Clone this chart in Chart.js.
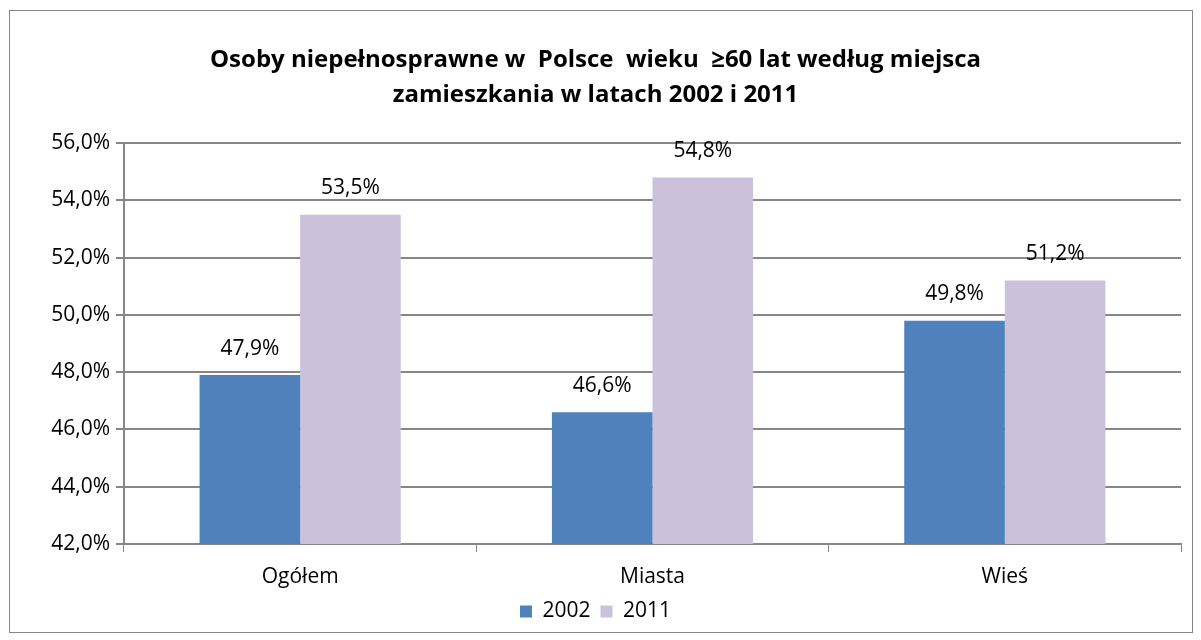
<!DOCTYPE html>
<html>
<head>
<meta charset="utf-8">
<script src="https://cdn.jsdelivr.net/npm/chart.js@4/dist/chart.umd.min.js"></script>
<style>
  body { margin: 0; background: #fff; }
  #box { position: absolute; left: 9px; top: 10px; width: 1182px; height: 621px; border: 1px solid #868686; }
  canvas { display: block; }
</style>
</head>
<body>
<div id="box"><canvas id="chart" width="1182" height="621"></canvas></div>
<script>
var categories = ['Ogółem', 'Miasta', 'Wieś'];
var seriesNames = ['2002', '2011'];
var values2002 = [47.9, 46.6, 49.8];
var values2011 = [53.5, 54.8, 51.2];
var yTicks = [42, 44, 46, 48, 50, 52, 54, 56];

var FONT = "'Open Sans', 'Noto Sans', sans-serif";

function pct(v) {
    return v.toFixed(1).replace('.', ',') + '%';
}

// labels above bars
var barLabels = {
    id: 'barLabels',
    afterDatasetsDraw: function (chart) {
        var ctx = chart.ctx;
        ctx.save();
        ctx.fillStyle = '#000';
        ctx.font = '21px ' + FONT;
        ctx.textAlign = 'center';
        ctx.textBaseline = 'bottom';
        chart.data.datasets.forEach(function (ds, i) {
            chart.getDatasetMeta(i).data.forEach(function (bar, j) {
                ctx.fillText(pct(ds.data[j]), bar.x, bar.y - 16);
            });
        });
        ctx.restore();
    }
};

var chart = new Chart(document.getElementById('chart').getContext('2d'), {
    type: 'bar',
    data: {
        labels: categories,
        datasets: [
            { label: seriesNames[0], data: values2002, backgroundColor: '#4F81BD' },
            { label: seriesNames[1], data: values2011, backgroundColor: '#CCC1DA' }
        ]
    },
    options: {
        responsive: false,
        animation: false,
        categoryPercentage: 0.571,
        barPercentage: 1,
        layout: { padding: { left: 0, right: 11, top: 0, bottom: 0 } },
        plugins: {
            title: {
                display: true,
                text: ['Osoby niepełnosprawne w  Polsce  wieku  \u226560 lat według miejsca', 'zamieszkania w latach 2002 i 2011'],
                color: '#000',
                font: { family: FONT, size: 24, weight: 'bold', lineHeight: 1.46 },
                padding: { top: 32, bottom: 30 }
            },
            legend: {
                position: 'bottom',
                labels: {
                    color: '#000',
                    font: { family: FONT, size: 21 },
                    boxWidth: 12,
                    boxHeight: 12,
                    padding: 10
                }
            },
            tooltip: { enabled: false }
        },
        scales: {
            x: {
                clip: false,
                afterFit: function (axis) { axis.height = 47; },
                grid: { display: true, drawOnChartArea: false, offset: true, color: '#868686', tickLength: 8 },
                border: { color: '#868686', width: 2 },
                ticks: { color: '#000', font: { family: FONT, size: 21, lineHeight: 1 }, padding: 15 }
            },
            y: {
                min: yTicks[0],
                max: yTicks[yTicks.length - 1],
                afterBuildTicks: function (axis) {
                    axis.ticks = yTicks.map(function (v) { return { value: v }; });
                },
                afterFit: function (axis) { axis.width = 114; },
                grid: { color: '#868686', lineWidth: 2, tickLength: 8 },
                border: { color: '#868686', width: 2 },
                ticks: {
                    color: '#000',
                    font: { family: FONT, size: 21 },
                    padding: 6,
                    callback: function (v) { return pct(v); }
                }
            }
        }
    },
    plugins: [barLabels]
});
</script>
</body>
</html>
